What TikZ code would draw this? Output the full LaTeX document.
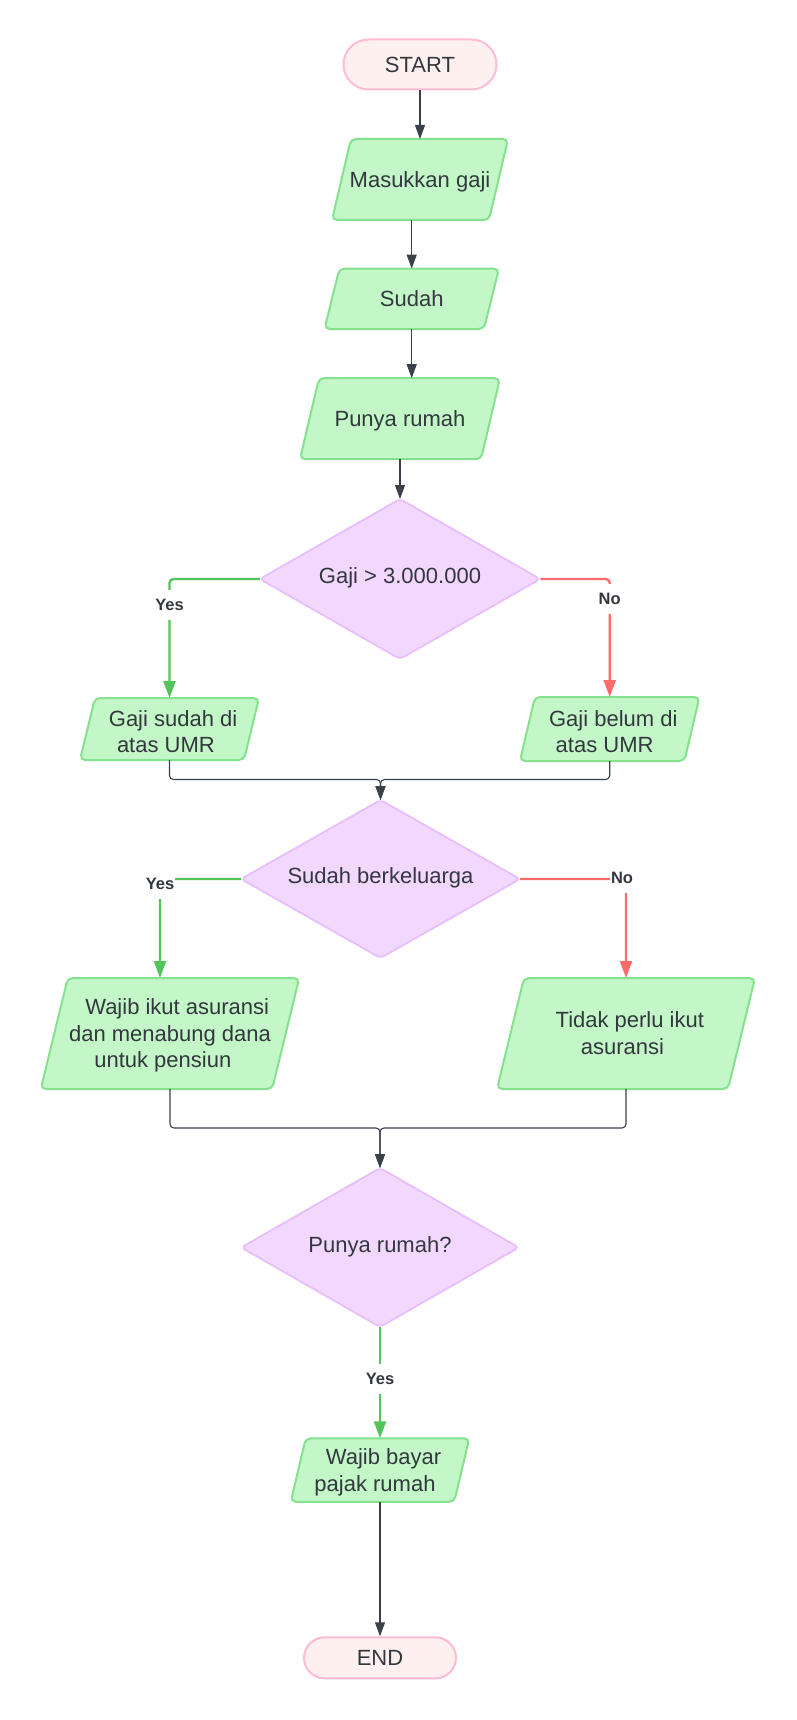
\documentclass[tikz,border=0pt]{standalone}
\usepackage{fontspec}
\setmainfont{Liberation Sans}
\usetikzlibrary{arrows.meta}
\definecolor{gfill}{RGB}{195,247,200}
\definecolor{gline}{RGB}{132,226,142}
\definecolor{pfill}{RGB}{242,215,254}
\definecolor{pline}{RGB}{232,190,252}
\definecolor{kfill}{RGB}{255,240,240}
\definecolor{kline}{RGB}{255,186,212}
\definecolor{dline}{RGB}{58,65,74}
\definecolor{yline}{RGB}{82,196,91}
\definecolor{rline}{RGB}{255,107,107}
\definecolor{tcol}{RGB}{51,55,62}
\tikzset{
  parashape/.style={draw=gline, fill=gfill, line width=2pt, rounded corners=5pt, line join=round},
  diashape/.style={draw=pline, fill=pfill, line width=1.8pt, rounded corners=4pt, line join=round},
  termshape/.style={draw=kline, fill=kfill, line width=2pt},
  anchorbox/.style={draw=none, fill=none, inner sep=0pt, outer sep=0pt, rectangle},
  txt/.style={font=\fontsize{22}{26.5}\selectfont, text=tcol, inner sep=0pt, text height=19.9pt, text depth=4.66pt},
  lbl/.style={font=\fontsize{16.5}{20}\selectfont\bfseries, text=tcol, fill=white, inner xsep=1pt, inner ysep=6pt, text height=14.9pt, text depth=3.5pt},
  dark/.style={draw=dline, line width=1.1pt, -{Triangle[width=10pt,length=14pt]}, rounded corners=4pt},
  yesl/.style={draw=yline, line width=2.3pt, -{Triangle[width=12pt,length=17pt]}, rounded corners=4pt},
  nol/.style={draw=rline, line width=2.3pt, -{Triangle[width=12pt,length=17pt]}, rounded corners=4pt}
}
\newcommand\paranode[6]{%
  \draw[parashape] ({#2-#4/2},{#3+#5/2}) -- ({#2-#4/2+#6},{#3-#5/2}) -- ({#2+#4/2},{#3-#5/2}) -- ({#2+#4/2-#6},{#3+#5/2}) -- cycle;
  \node[anchorbox, minimum width={#4-#6}, minimum height={#5}] (#1) at (#2,#3) {};
}
\newcommand\dianode[5]{%
  \draw[diashape] ({#2-#4/2},#3) -- (#2,{#3-#5/2}) -- ({#2+#4/2},#3) -- (#2,{#3+#5/2}) -- cycle;
  \node[anchorbox, minimum width={#4}, minimum height={#5}] (#1) at (#2,#3) {};
}
\begin{document}
\begin{tikzpicture}[x=1pt,y=-1pt]
\useasboundingbox[fill=white] (0,0) rectangle (796,1720);

% terminals
\node[termshape, txt, minimum width=153pt, minimum height=50pt, rounded corners=25pt] (start) at (420,64.5) {START};
\node[termshape, txt, minimum width=152pt, minimum height=41pt, rounded corners=20.5pt] (end) at (380,1657.8) {END};

% parallelograms
\paranode{mas}{420}{179.5}{176}{81}{19}
\paranode{sud}{411.7}{298.8}{174.5}{60.4}{15}
\paranode{pun}{400}{418.7}{200}{81}{19}
\paranode{gs}{169.5}{729}{179}{62}{15}
\paranode{gb}{609.7}{729}{179.5}{64}{15}
\paranode{wi}{170}{1033.5}{258.4}{111}{27}
\paranode{tp}{626}{1033.5}{258}{111}{27}
\paranode{wb}{380}{1470}{178.5}{63.5}{15}

% diamonds
\dianode{d1}{400}{579}{280.5}{160}
\dianode{d2}{380.5}{879}{279}{158}
\dianode{d3}{380}{1247.5}{277.6}{159}

% texts
\node[txt] (tmas) at (420,179.5) {Masukkan gaji};
\node[txt] (tsud) at (411.7,298.8) {Sudah};
\node[txt] (tpun) at (400,418.7) {Punya rumah};
\node[txt] (td1) at (400,576) {Gaji > 3.000.000};
\node[txt] (td2) at (380.5,876) {Sudah berkeluarga};
\node[txt] (td3) at (380,1244.5) {Punya rumah?};
\node[txt] (tgs1) at (173.1,718.5) {Gaji sudah di};
\node[txt] (tgs2) at (165.9,745) {atas UMR};
\node[txt] (tgb1) at (613.3,718.5) {Gaji belum di};
\node[txt] (tgb2) at (604.6,745) {atas UMR};
\node[txt] (twi1) at (177.2,1007) {Wajib ikut asuransi};
\node[txt] (twi2) at (170,1033.5) {dan menabung dana};
\node[txt] (twi3) at (162.8,1060) {untuk pensiun};
\node[txt] (ttp1) at (629.8,1020.25) {Tidak perlu ikut};
\node[txt] (ttp2) at (622.4,1046.75) {asuransi};
\node[txt] (twb1) at (383.5,1457) {Wajib bayar};
\node[txt] (twb2) at (375,1483.5) {pajak rumah};

% straight connectors
\draw[dark] (start.south) -- (start.south |- mas.north);
\draw[dark] (mas.south -| sud.north) -- (sud.north);
\draw[dark] (sud.south) -- (sud.south |- pun.north);
\draw[dark] (pun.south) -- (d1.north);

% decision 1
\draw[yesl] (d1.west) -| (gs.north);
\node[lbl] (y1) at (169.5,605) {Yes};
\draw[nol] (d1.east) -| (gb.north);
\node[lbl] (n1) at (609.7,599) {No};

% merge 1
\coordinate (m1) at (380.5,779.5);
\draw[dark] (gs.south) |- (m1) -- (d2.north);
\draw[dark] (gb.south) |- (m1) -- (d2.north);

% decision 2
\coordinate (wiin) at (160,978);
\draw[yesl] (d2.west) -| (wiin);
\node[lbl] (y2) at (160,884) {Yes};
\draw[nol] (d2.east) -| (tp.north);
\node[lbl] (n2) at (622,878) {No};

% merge 2
\coordinate (m2) at (380,1128);
\draw[dark] (wi.south) |- (m2) -- (d3.north);
\draw[dark] (tp.south) |- (m2) -- (d3.north);

% decision 3
\draw[yesl] (d3.south) -- (wb.north);
\node[lbl] (y3) at (380,1379) {Yes};

\draw[dark] (wb.south) -- (end.north);
\end{tikzpicture}
\end{document}
